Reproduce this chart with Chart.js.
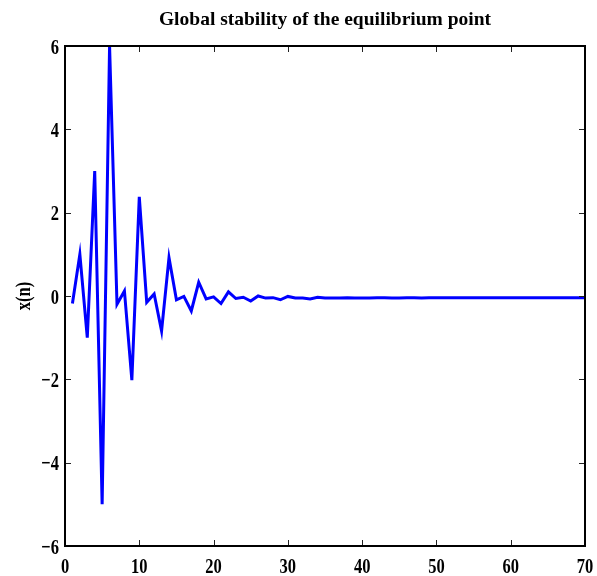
<!DOCTYPE html>
<html>
<head>
<meta charset="utf-8">
<script src="https://cdn.jsdelivr.net/npm/chart.js@4.4.0/dist/chart.umd.min.js"></script>
<style>
  html, body { margin: 0; padding: 0; background: #fff; }
  #wrap { width: 597px; height: 576px; }
</style>
</head>
<body>
<div id="wrap"><canvas id="stabChart" width="597" height="576"></canvas></div>
<script>
// x(n) valori, n = 1..70
const xn = [
  -0.18, 1.0, -1.0, 3.0, -5.0, 6.0, -0.2, 0.12, -2.02, 2.38,
  -0.15, 0.05, -0.84, 0.92, -0.09, -0.01, -0.36, 0.33, -0.07, -0.02,
  -0.18, 0.1, -0.06, -0.03, -0.12, 0.0, -0.05, -0.04, -0.09, -0.01,
  -0.05, -0.05, -0.07, -0.03, -0.05, -0.05, -0.05, -0.04, -0.05, -0.05,
  -0.05, -0.04, -0.04, -0.05, -0.05, -0.04, -0.04, -0.05, -0.04, -0.04,
  -0.04, -0.04, -0.04, -0.04, -0.04, -0.04, -0.04, -0.04, -0.04, -0.04,
  -0.04, -0.04, -0.04, -0.04, -0.04, -0.04, -0.04, -0.04, -0.04, -0.04
];
const xTicks = [0, 10, 20, 30, 40, 50, 60, 70];
const yTicks = [-6, -4, -2, 0, 2, 4, 6];
const titleText = "Global stability of the equilibrium point";
const yLabel = "x(n)";

const FONT = "'Liberation Serif', 'Times New Roman', serif";
const fmt = (v) => (v < 0 ? "\u2212" + Math.abs(v) : String(v));

// testo stretto in orizzontale, come nell'originale
function narrowText(ctx, txt, x, y, align, sx) {
  ctx.save();
  ctx.translate(x, y);
  ctx.scale(sx, 1);
  ctx.textAlign = align;
  ctx.fillText(txt, 0, 0);
  ctx.restore();
}

// riquadro, tacche interne e testi stile MATLAB
const matlabAxes = {
  id: "matlabAxes",
  afterDatasetsDraw(chart) {
    const { ctx, chartArea: a, scales } = chart;
    const len = 6;
    ctx.save();
    ctx.strokeStyle = "#222";
    ctx.lineWidth = 1;
    ctx.beginPath();
    xTicks.forEach((v) => {
      const px = Math.round(scales.x.getPixelForValue(v)) + 0.5;
      ctx.moveTo(px, a.bottom); ctx.lineTo(px, a.bottom - len);
      ctx.moveTo(px, a.top); ctx.lineTo(px, a.top + len);
    });
    yTicks.forEach((v) => {
      const py = Math.round(scales.y.getPixelForValue(v)) + 0.5;
      ctx.moveTo(a.left, py); ctx.lineTo(a.left + len, py);
      ctx.moveTo(a.right, py); ctx.lineTo(a.right - len, py);
    });
    ctx.stroke();
    ctx.lineWidth = 2;
    ctx.strokeStyle = "#000";
    ctx.strokeRect(a.left, a.top, a.right - a.left, a.bottom - a.top);

    ctx.fillStyle = "#000";
    ctx.textBaseline = "alphabetic";
    ctx.font = "bold 22px " + FONT;
    xTicks.forEach((v) => {
      narrowText(ctx, fmt(v), scales.x.getPixelForValue(v), a.bottom + 27, "center", 0.75);
    });
    yTicks.forEach((v) => {
      narrowText(ctx, fmt(v), a.left - 6, scales.y.getPixelForValue(v) + 7.5, "right", 0.75);
    });

    ctx.save();
    ctx.translate(30, (a.top + a.bottom) / 2);
    ctx.rotate(-Math.PI / 2);
    narrowText(ctx, yLabel, 0, 0, "center", 0.75);
    ctx.restore();

    ctx.font = "bold 19.5px " + FONT;
    narrowText(ctx, titleText, (a.left + a.right) / 2, 25, "center", 1);
    ctx.restore();
  }
};

new Chart(document.getElementById("stabChart").getContext("2d"), {
  type: "line",
  data: {
    datasets: [{
      data: xn.map((v, i) => ({ x: i + 1, y: v })),
      borderColor: "#0000ff",
      borderWidth: 3,
      pointRadius: 0,
      tension: 0,
      fill: false
    }]
  },
  options: {
    responsive: false,
    animation: false,
    layout: { padding: { top: 46, right: 12, bottom: 0, left: 0 } },
    plugins: {
      legend: { display: false },
      tooltip: { enabled: false },
      title: { display: false }
    },
    scales: {
      x: {
        type: "linear",
        min: 0,
        max: 70,
        afterBuildTicks: (s) => { s.ticks = xTicks.map((v) => ({ value: v })); },
        afterFit: (s) => { s.height = 30; s.paddingLeft = 0; s.paddingRight = 0; },
        grid: { display: false },
        border: { display: false },
        ticks: { display: false }
      },
      y: {
        min: -6,
        max: 6,
        afterBuildTicks: (s) => { s.ticks = yTicks.map((v) => ({ value: v })); },
        afterFit: (s) => { s.width = 65; s.paddingTop = 0; s.paddingBottom = 0; },
        grid: { display: false },
        border: { display: false },
        ticks: { display: false }
      }
    }
  },
  plugins: [matlabAxes]
});
</script>
</body>
</html>
